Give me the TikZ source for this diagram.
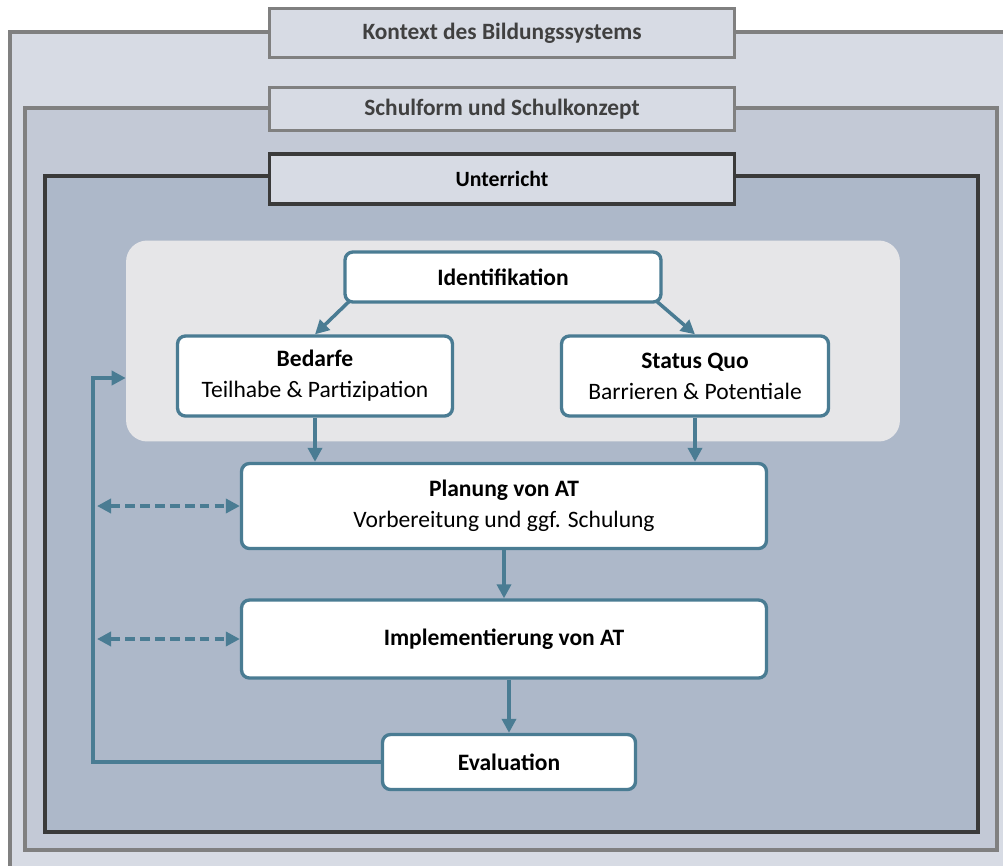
\documentclass[tikz,border=0pt]{standalone}
\usepackage{fontspec}
\setmainfont{Carlito}
\usetikzlibrary{arrows.meta}

\definecolor{ctxfill}{HTML}{D7DBE4}
\definecolor{schulfill}{HTML}{C3C9D6}
\definecolor{untfill}{HTML}{ADB8C9}
\definecolor{idfill}{HTML}{E6E6E8}
\definecolor{atblue}{HTML}{4A7C93}
\definecolor{framegray}{HTML}{808080}
\definecolor{framedark}{HTML}{3A3A3A}

\tikzset{
  framebox/.style={line width=2pt},
  framelabel/.style={draw, line width=2pt, fill=ctxfill, minimum width=9.3cm,
    font=\bfseries\fontsize{13.3}{15}\selectfont},
  proc/.style={draw=atblue, line width=1.9pt, fill=white, rounded corners=4.5pt,
    align=center, font=\fontsize{13.4}{17.5}\selectfont},
  flow/.style={atblue, line width=2pt, -{Triangle[length=8pt,width=8pt]}},
  dflow/.style={atblue, line width=2pt, dash pattern=on 5.5pt off 3pt,
    {Triangle[length=8pt,width=8pt]}-{Triangle[length=8pt,width=8pt]}}
}

\begin{document}
\begin{tikzpicture}[x=0.02cm, y=-0.02cm]
  \useasboundingbox (0,0) rectangle (1003,865);
  \clip (0,0) rectangle (1003,865);
  \fill[white] (0,0) rectangle (1003,865);

  % nested context frames
  \draw[framebox, draw=framegray, fill=ctxfill] (10,32) rectangle (1020,880);
  \draw[framebox, draw=framegray, fill=schulfill] (25,108) rectangle (997,850);
  \draw[framebox, draw=framedark, fill=untfill] (45,176) rectangle (978,832);

  \node[framelabel, draw=framegray, text=black!75, minimum height=0.98cm] (kontext) at (502,33) {Kontext des Bildungssystems};
  \node[framelabel, draw=framegray, text=black!75, minimum height=0.86cm] (schulform) at (502,109) {Schulform und Schulkonzept};
  \node[framelabel, draw=framedark, minimum height=1.0cm, font=\bfseries\fontsize{12.4}{14}\selectfont] (unterricht) at (502,179) {Unterricht};

  % identification area
  \node[fill=idfill, rounded corners=12pt, minimum width=15.48cm, minimum height=4.02cm] (idarea) at (513,341) {};

  \node[proc, minimum width=6.32cm, minimum height=1.0cm] (ident) at (503,277) {\textbf{Identifikation}};
  \node[proc, minimum width=5.5cm, minimum height=1.6cm] (bedarf) at (315,376) {\textbf{Bedarfe}\\Teilhabe \& Partizipation};
  \node[proc, minimum width=5.34cm, minimum height=1.6cm] (status) at (695,376) {\textbf{Status Quo}\\Barrieren \& Potentiale};
  \node[proc, minimum width=10.5cm, minimum height=1.7cm] (planung) at (504,506) {\textbf{Planung von AT}\\Vorbereitung und ggf. Schulung};
  \node[proc, minimum width=10.5cm, minimum height=1.56cm] (impl) at (504,639) {\textbf{Implementierung von AT}};
  \node[proc, minimum width=5.06cm, minimum height=1.1cm] (eval) at (509,762) {\textbf{Evaluation}};

  \coordinate (fbcorner) at (93,378);
  \coordinate (fbleft) at (97,500);

  % connectors
  \draw[flow] (ident.south west) ++(3pt,1pt) -- (bedarf.north);
  \draw[flow] (ident.south east) ++(-3pt,1pt) -- (status.north);
  \draw[flow] (bedarf.south) -- (bedarf.south |- planung.north);
  \draw[flow] (status.south) -- (status.south |- planung.north);
  \draw[flow] (planung.south) -- (impl.north);
  \draw[flow] (eval.north |- impl.south) -- (eval.north);
  \draw[flow] (eval.west) -| (fbcorner) -- (fbcorner -| idarea.west);
  \draw[dflow] (fbleft |- planung.west) -- (planung.west);
  \draw[dflow] (fbleft |- impl.west) -- (impl.west);
\end{tikzpicture}
\end{document}
